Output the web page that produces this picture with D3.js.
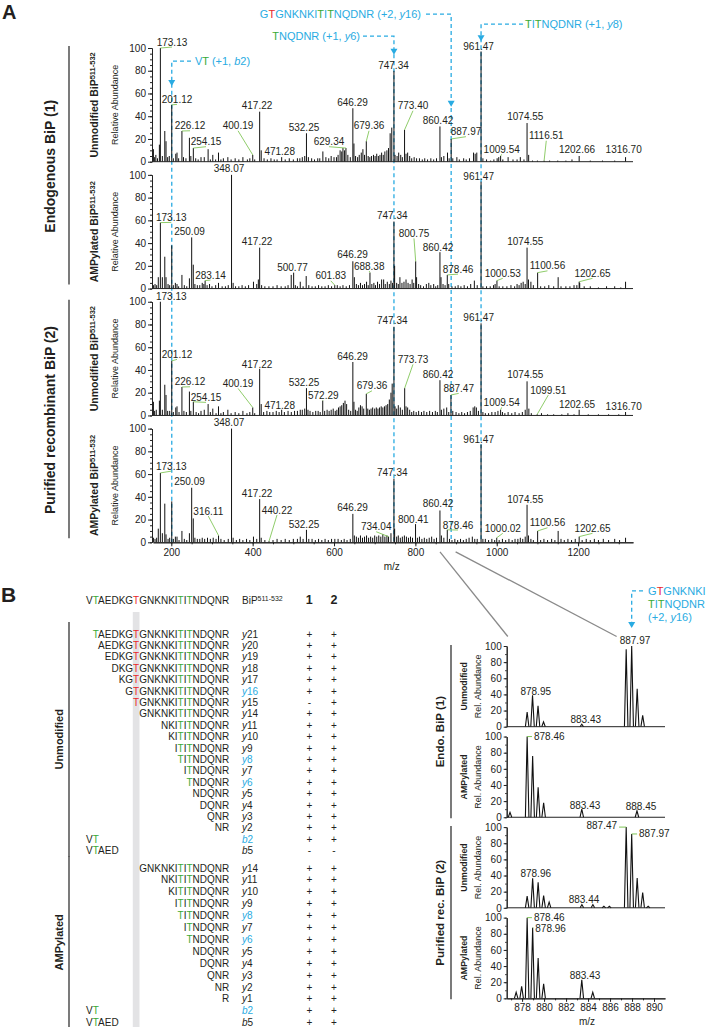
<!DOCTYPE html>
<html><head><meta charset="utf-8">
<script src="https://cdn.jsdelivr.net/npm/d3@7"></script>
<style>body{margin:0;background:#fff}svg{font-family:"Liberation Sans",Arial,sans-serif}</style>
</head><body><svg id="c" width="708" height="1027"></svg>
<script>
// ---------------- DATA ----------------
const mainDomain = [155, 1335];
const mainXTicks = [200, 400, 600, 800, 1000, 1200];
const yTicks = [0, 20, 40, 60, 80, 100];
const panelStates = ["Unmodified", "AMPylated", "Unmodified", "AMPylated"];
const groupNames = ["Endogenous BiP (1)", "Purified recombinant BiP (2)"];

// [m/z, relative abundance]
const endoUnmod = [[156,11],[159,4],[162,6],[166,3],[170.7,15],[173.13,100],[178,5],[184,27],[187,18],[191,4],[195,5],[201.12,50],[205,3],[211,7],[214,8],[218,3],[226.12,27],[230,4],[236,3],[244.5,21],[248,5],[254.15,12],[260,3],[266,2],[273,4],[281,4],[290.5,11],[296,2],[302,6],[309,2],[316,8],[322,2],[328,3],[339,4],[347,2],[357,3],[366,2],[376,4],[387,2],[393,3],[400.19,6],[405,2],[417.22,44],[421,10],[428,3],[436,2],[445,3],[453,2],[460,2],[471.28,4],[480,2],[490,3],[500,2],[510,3],[516,3],[522,4],[528,5],[532.25,25],[537,4],[545,3],[552,2],[560,3],[565,3],[572.6,9],[580,4],[587,3],[593,5],[600,4],[606,4],[610,6],[615,10],[619,9],[622,12],[626,10],[629.34,12],[634,6],[640,4],[646.29,47],[649,16],[653,5],[658,4],[662,6],[667,8],[671,11],[675,6],[679.36,18],[684,5],[688,4],[692,5],[697,6],[701,5],[705,7],[709,5],[713,6],[717,8],[721,6],[725,9],[730,10],[734,12],[738,25],[742,30],[747.34,80],[750,6],[755,5],[759,8],[764,6],[768,4],[773.4,28],[777,7],[781,8],[786,5],[791,3],[797,4],[803,3],[810,3],[817,2],[823,3],[830,2],[838,3],[845,2],[852,3],[860.42,31],[864,4],[870,5],[879,8],[883,3],[887.97,20],[892,3],[902,4],[908,2],[918.7,3],[925,2],[933,3],[943,8],[947,7],[951,8],[961.47,97],[966,3],[975,2],[985,1],[993,2],[1001,3],[1005,4],[1009.54,5],[1015,2],[1028,4],[1040,2],[1050,2],[1058,4],[1067,2],[1074.55,34],[1078.5,6],[1088,1],[1100,1],[1116.51,1],[1130,1],[1150,1],[1170,1],[1185,2],[1202.66,5],[1230,1],[1260,1],[1290,1],[1316.7,4]];
const endoAMP = [[156,3],[160,4],[164,3],[168,10],[173.13,58],[178,10],[184,28],[187,10],[192,4],[196,3],[201.12,38],[205,3],[210,5],[214,4],[218,2],[226.12,12],[232,3],[238,2],[244.5,9],[250.09,45],[254,21],[258,4],[264,3],[270,3],[276,5],[280,4],[283.14,7],[288,3],[294,4],[300,2],[309,3],[316,5],[325,2],[333,2],[340,3],[348.07,100],[352,5],[358,2],[366,2],[374,3],[382,2],[390,3],[402,6],[410,4],[414,8],[417.22,36],[422,3],[430,2],[440,2],[450,2],[460,3],[470,2],[480,2],[487,3],[494.8,12],[500.77,14],[505,3],[510,2],[517,6],[524,2],[531.6,11],[538,3],[546,2],[554,2],[562,3],[570,2],[578,2],[586,3],[594,2],[601.83,3],[608,3],[615,2],[622,3],[630,2],[638,3],[646.29,24],[650,10],[655,4],[660,3],[665,5],[670,3],[675,4],[680,6],[684,3],[688.38,14],[693,4],[698,5],[702,3],[707,6],[712,4],[717,8],[722,8],[726,4],[731,6],[736,4],[740,7],[744,5],[747.34,59],[749,20],[754,5],[758,4],[762,10],[767,5],[772,6],[777,8],[782,5],[787,4],[792,8],[796,5],[800.75,24],[803,10],[808,4],[813,3],[820,2],[827,4],[833,5],[838,3],[845,4],[850,2],[855,3],[860.42,32],[863,10],[868,4],[873,3],[878.46,12],[882,4],[890,2],[898,2],[905,3],[912,2],[920,3],[928,2],[936,4],[945,7],[952,3],[961.47,94],[966,2],[975,2],[984,2],[992,3],[996,4],[1000.53,7],[1006,2],[1015,2],[1025,2],[1035,3],[1044,2],[1050,4],[1055,3],[1060,5],[1065,6],[1070,4],[1074.55,36],[1078,8],[1084,6],[1090,3],[1100.56,14],[1108,2],[1118,2],[1128,3],[1140,2],[1151,10],[1158,2],[1170,2],[1180,2],[1190,3],[1197,3],[1202.65,6],[1204,5],[1215,2],[1230,2],[1250,1],[1270,2],[1290,2],[1305,1],[1316.7,6]];
const recUnmod = [[156,12],[159,4],[163,5],[170.7,13],[173.13,100],[178,5],[184,27],[187,18],[191,4],[196,4],[201.12,48],[205,3],[211,7],[214,8],[219,3],[226.12,25],[231,4],[237,3],[244.5,21],[248,4],[254.15,12],[261,3],[267,2],[273,4],[281,5],[290.5,10],[296,3],[302,6],[310,2],[316,8],[322,2],[328,3],[339,5],[347,2],[357,3],[366,2],[376,4],[386,2],[393,3],[400.19,7],[405,2],[417.22,41],[421,10],[427,3],[435,4],[442,3],[450,3],[458,4],[465,3],[471.28,5],[478,3],[487,4],[495,3],[503,4],[510,4],[517,5],[522,5],[528,6],[532.25,24],[536,5],[541,4],[548,3],[555,4],[561,4],[566,3],[572.29,13],[577,4],[583,5],[588,4],[593,5],[598,6],[603,4],[607,5],[611,7],[615,8],[619,9],[623,11],[627,13],[631,10],[636,5],[641,4],[646.29,47],[649,12],[653,5],[657,4],[661,7],[665,9],[669,8],[673,6],[679.36,19],[683,6],[687,5],[691,6],[695,7],[700,6],[704,7],[708,6],[712,7],[716,8],[720,7],[724,8],[728,9],[732,10],[736,14],[740,20],[743,28],[747.34,78],[750,8],[754,6],[758,9],[763,7],[768,5],[773.73,24],[777,8],[781,7],[786,5],[791,3],[796,4],[802,3],[808,4],[815,3],[821,4],[828,3],[835,4],[842,3],[849,4],[854,3],[860.42,31],[864,5],[870,6],[877,7],[882,3],[887.47,18],[892,4],[900,3],[907,2],[914,3],[921,2],[928,3],[935,4],[942,7],[946,8],[950,7],[955,4],[961.47,81],[966,3],[972,2],[980,2],[988,3],[996,3],[1003,4],[1009.54,5],[1014,3],[1020,2],[1028,3],[1037,2],[1045,3],[1055,2],[1063,3],[1070,5],[1074.55,30],[1079,6],[1085,2],[1099.51,1],[1110,2],[1125,1],[1140,1],[1160,1],[1175,2],[1190,1],[1202.65,5],[1225,1],[1250,1],[1275,1],[1300,1],[1316.7,3]];
const recAMP = [[156,4],[160,3],[164,4],[168,12],[173.13,61],[178,8],[184,34],[187,7],[192,3],[196,4],[201.12,36],[205,3],[210,5],[214,5],[219,2],[226.12,10],[232,3],[238,2],[244.5,8],[250.09,48],[254,21],[258,4],[264,3],[270,3],[276,4],[282,3],[289,4],[296,3],[303,4],[310,3],[316.11,6],[322,3],[330,2],[340,3],[348.07,100],[352,4],[360,2],[368,3],[376,2],[385,3],[393,2],[402,5],[410,3],[417.22,38],[421,4],[430,2],[440.22,1],[450,2],[460,3],[470,2],[480,3],[490,2],[500,3],[510,3],[517,5],[524,3],[532.25,11],[538,3],[546,3],[554,2],[562,3],[570,2],[578,3],[586,2],[594,3],[602,3],[610,3],[618,2],[625,3],[632,2],[640,3],[646.29,25],[650,6],[655,5],[660,4],[665,6],[670,4],[675,5],[680,6],[685,4],[690,5],[695,4],[700,6],[705,5],[710,6],[715,5],[720,7],[725,5],[730,6],[734.04,5],[740,8],[747.34,56],[749,12],[754,5],[758,6],[763,4],[768,5],[773,6],[778,5],[783,4],[788,5],[793,4],[800.41,16],[805,4],[810,5],[816,3],[822,4],[828,3],[834,4],[840,5],[846,3],[852,4],[860.42,28],[864,6],[870,4],[878.46,11],[884,3],[890,2],[897,3],[904,2],[911,3],[918,2],[925,3],[932,4],[940,5],[946,3],[952,3],[961.47,86],[966,3],[972,3],[980,2],[988,3],[995,2],[1000.02,4],[1006,2],[1014,3],[1022,2],[1030,3],[1038,2],[1045,3],[1052,3],[1058,4],[1064,3],[1070,5],[1074.55,33],[1078,6],[1084,3],[1090,2],[1100.56,10],[1108,2],[1116,3],[1125,2],[1135,3],[1143,2],[1151,10],[1158,3],[1166,2],[1175,3],[1184,2],[1193,3],[1202.65,5],[1210,2],[1220,3],[1230,2],[1240,3],[1250,2],[1262,3],[1275,2],[1290,3],[1302,2],[1316.7,4]];

// peak labels: [peak m/z, label m/z, label abundance, leader line]
const endoUnmodLabels = [[173.13,201.7,105.2,1],[201.12,214,54.8,1],[226.12,246,31.6,1],[254.15,285.3,17.6,1],[400.19,364,31.6,1],[417.22,410.7,49.2,0],[471.28,466.5,9.4,0],[532.25,526.2,29.9,0],[629.34,587.6,17.6,1],[646.29,645.4,51.8,0],[679.36,686,31.6,1],[747.34,746.2,85,0],[773.40,794.1,49.2,1],[860.42,855.6,36.6,0],[887.97,924.4,26.4,1],[961.47,955.4,101,0],[1009.54,1012.2,10.9,1],[1074.55,1070.2,39.5,0],[1116.51,1121.8,22.8,1],[1202.66,1197.3,10.9,0],[1316.70,1312.1,10.9,0]];
const endoAMPLabels = [[173.13,200,62.6,1],[250.09,244.7,49.9,0],[283.14,296.3,11.9,1],[348.07,341.8,105.6,0],[417.22,410.7,41.1,0],[500.77,497.9,18.3,0],[601.83,592.1,11.2,1],[646.29,645.4,30.1,0],[688.38,686.5,19.8,1],[747.34,743.3,64,0],[800.75,796.6,48.5,1],[860.42,855.6,36.4,0],[878.46,904.8,17.1,1],[961.47,955.6,98.9,0],[1000.53,1014.9,13.4,1],[1074.55,1070.2,41.1,0],[1100.56,1124.8,20,1],[1202.65,1235.4,13.4,1]];
const recUnmodLabels = [[173.13,200,104.3,0],[201.12,214,53.7,1],[226.12,246,29.6,1],[254.15,285.3,15.9,1],[400.19,364,28.2,1],[417.22,410.7,45.2,0],[471.28,466.5,8.5,0],[532.25,526.2,28.7,0],[572.29,573.6,17.9,1],[646.29,645.4,52.2,0],[679.36,693.4,26.1,1],[747.34,743.3,83.8,0],[773.73,794.1,49.3,1],[860.42,855.6,36.4,0],[887.47,906.5,23.8,1],[961.47,955.6,86.2,0],[1009.54,1012.2,11.5,1],[1074.55,1070.2,36.4,0],[1099.51,1126.7,22.3,1],[1202.65,1197.3,10,0],[1316.70,1312.1,7.6,0]];
const recAMPLabels = [[173.13,200,67,1],[250.09,244.7,53.3,0],[316.11,290.9,27.5,1],[348.07,341.8,105.4,0],[417.22,410.7,43.1,0],[440.22,459.8,28.4,1],[532.25,526.2,16.1,0],[646.29,645.4,30.4,0],[734.04,703.7,13.7,1],[747.34,743.3,61.5,0],[800.41,794.9,20.5,0],[860.42,855.6,33.7,0],[878.46,904.8,15.2,1],[961.47,955.6,90.8,0],[1000.02,1014.9,12.3,1],[1074.55,1070.2,37.8,0],[1100.56,1124.8,17.2,1],[1202.65,1235.4,12.3,1]];

// fragment annotations in panel A (abundance values in the scale of the top panel)
const fragNotes = [
  {parts:[["G","blue"],["T","red"],["GNKNKI","blue"],["T","green"],["I","blue"],["T","green"],["NQDNR","blue"]], charge:"+2", ion:"y16", mz:887.97, textMz:813.8, lineMz:826.1, level:129.8, tip:48.3, anchor:"end"},
  {parts:[["T","green"],["I","blue"],["T","green"],["NQDNR","blue"]], charge:"+1", ion:"y8", mz:961.47, textMz:1069.5, lineMz:1064.5, level:121, tip:106, anchor:"start"},
  {parts:[["T","green"],["NQDNR","blue"]], charge:"+1", ion:"y6", mz:747.34, textMz:663.8, lineMz:671.2, level:110.4, tip:94, anchor:"end"},
  {parts:[["V","blue"],["T","green"]], charge:"+1", ion:"b2", mz:201.12, textMz:258.2, lineMz:248.4, level:88.5, tip:66.5, anchor:"start"}
];

// zoomed inset (panel B right)
const insetDomain = [876.6, 891];
const insetXTicks = [878, 880, 882, 884, 886, 888, 890];
const insetGroups = ["Endo. BiP (1)", "Purified rec. BiP (2)"];
const insetEndoUnmod = [[878.46,18],[878.95,39],[879.45,26],[879.95,6],[883.43,3],[887.47,96],[887.97,100],[888.47,47],[888.97,14]];
const insetEndoAMP = [[876.9,6],[878.46,100],[878.96,76],[879.46,37],[879.96,18],[883.43,10],[888.45,8]];
const insetRecUnmod = [[878.46,14.5],[878.96,36.5],[879.46,31.5],[879.96,15],[880.46,7],[883.44,4],[884.44,4],[885.44,2],[885.94,2],[887.47,100],[887.97,91.5],[888.47,37],[888.97,19],[889.47,2]];
const insetRecAMP = [[877.46,7.5],[877.96,15],[878.46,100],[878.96,87.5],[879.46,50],[879.96,18],[883.43,23],[884.43,7.5]];
// [peak m/z, label m/z, label abundance, anchor, leader]
const insetEndoUnmodLabels = [[878.95,879.24,44,"middle",0],[883.43,883.79,9.5,"middle",0],[887.97,888.27,107,"middle",0]];
const insetEndoAMPLabels = [[878.46,878.9,100,"start",1],[883.43,883.72,14.5,"middle",0],[888.45,888.82,13.3,"middle",0]];
const insetRecUnmodLabels = [[887.47,886.82,101.6,"end",1],[887.97,888.46,91.8,"start",1],[878.96,879.24,43,"middle",0],[883.44,883.63,10.8,"middle",0]];
const insetRecAMPLabels = [[878.46,878.9,100,"start",1],[878.96,879.02,87,"start",1],[883.43,883.72,28,"middle",0]];

// table (panel B left)
const sequence = "VTAEDKGTGNKNKITITNDQNR";
const modifiedSite = [7];
const greenSites = [1, 14, 16];
const blueIons = ["y16", "y8", "y6", "b2"];
const unmodRows = [["y21","+","+"],["y20","+","+"],["y19","+","+"],["y18","+","+"],["y17","+","+"],["y16","+","+"],["y15","-","+"],["y14","+","+"],["y11","+","+"],["y10","+","+"],["y9","+","+"],["y8","+","+"],["y7","+","+"],["y6","+","+"],["y5","+","+"],["y4","+","+"],["y3","+","+"],["y2","+","+"],["b2","+","+"],["b5","-","-"]];
const ampRows = [["y14","+","+"],["y11","+","+"],["y10","+","+"],["y9","+","+"],["y8","+","+"],["y7","+","+"],["y6","+","+"],["y5","+","+"],["y4","+","+"],["y3","+","+"],["y2","+","+"],["y1","+","+"],["b2","+","+"],["b5","+","+"]];
const tableGroups = ["Unmodified", "AMPylated"];
const sampleCols = ["1", "2"];

// ---------------- DRAWING ----------------
const svg = d3.select("#c");
const C = {blue:"#29abe2", green:"#3aa935", red:"#e8262a", ink:"#231f20", lead:"#72bf44", grey:"#8a8a8a", band:"#e3e3e5"};

function txt(g, x, y, s, size, opts = {}) {
  const t = g.append("text").attr("x", x).attr("y", y).attr("font-size", size)
    .attr("fill", opts.fill || C.ink).attr("text-anchor", opts.anchor || "middle").attr("dy", opts.dy || "0.35em");
  if (opts.bold) t.attr("font-weight", "bold");
  if (opts.rotate) t.attr("transform", `rotate(-90,${x},${y})`);
  if (s !== null) t.text(s);
  return t;
}
function styleAxis(g, size) {
  g.attr("font-family", null).attr("font-size", size);
  g.selectAll("path,line").attr("stroke", "#222");
  g.selectAll("text").attr("fill", "#222");
}

// ===== Panel A =====
txt(svg, 2, 12, "A", 20, {anchor:"start", bold:true});
const xMain = d3.scaleLinear().domain(mainDomain).range([153, 633]);
const mainTop = i => 48 + i * 126.87, mainH = 113.7;
const yMain = [0,1,2,3].map(i => d3.scaleLinear().domain([0,100]).range([mainTop(i) + mainH, mainTop(i)]));

// blue dashed guide lines (behind spectra)
fragNotes.forEach(a => {
  const x = xMain(a.mz), y = yMain[0];
  svg.append("path").attr("d", `M${xMain(a.lineMz)},${y(a.level)}H${x}V${yMain[3](0)}`)
    .attr("fill","none").attr("stroke",C.blue).attr("stroke-width",1.3).attr("stroke-dasharray","4,3");
  const ty = y(a.tip);
  svg.append("path").attr("d", `M${x-3.5},${ty-6}L${x+3.5},${ty-6}L${x},${ty}Z`).attr("fill", C.blue);
  const t = txt(svg, xMain(a.textMz), y(a.level), null, 11, {anchor:a.anchor});
  a.parts.forEach(([s,c]) => t.append("tspan").attr("fill", C[c]).text(s));
  t.append("tspan").attr("fill", C.blue).text(` (${a.charge}, `);
  t.append("tspan").attr("fill", C.blue).attr("font-style","italic").text(a.ion[0]);
  t.append("tspan").attr("fill", C.blue).text(a.ion.slice(1) + ")");
});

const mainSpectra = [endoUnmod, endoAMP, recUnmod, recAMP];
const mainLabels = [endoUnmodLabels, endoAMPLabels, recUnmodLabels, recAMPLabels];
mainSpectra.forEach((pk, i) => {
  const y = yMain[i];
  const g = svg.append("g");
  g.selectAll("line").data(pk).join("line")
    .attr("x1", d => xMain(d[0])).attr("x2", d => xMain(d[0]))
    .attr("y1", y(0)).attr("y2", d => y(d[1])).attr("stroke", "#111").attr("stroke-width", 1);
  // axes
  const ya = svg.append("g").attr("transform", "translate(152,0)");
  ya.append("g").call(d3.axisLeft(y).tickValues(d3.range(0, 101, 5)).tickSize(2).tickFormat("").tickSizeOuter(0));
  ya.append("g").call(d3.axisLeft(y).tickValues(yTicks).tickSize(4).tickSizeOuter(0).tickPadding(2));
  styleAxis(ya, 10);
  if (i < 3) {
    svg.append("line").attr("x1", 152).attr("x2", 633).attr("y1", y(0)).attr("y2", y(0)).attr("stroke", "#222");
  } else {
    const xa = svg.append("g").attr("transform", `translate(0,${y(0)})`);
    xa.append("g").call(d3.axisBottom(xMain).tickValues(d3.range(200, 1301, 50)).tickSize(2).tickFormat("").tickSizeOuter(0));
    xa.append("g").call(d3.axisBottom(xMain).tickValues(mainXTicks).tickSize(4).tickSizeOuter(0).tickPadding(3).tickFormat(d3.format("d")));
    styleAxis(xa, 10);
    txt(svg, xMain(741.8), y(0) + 24, "m/z", 10);
  }
  // labels
  mainLabels[i].forEach(([mz, lx, ly, lead]) => {
    const p = pk.reduce((a, b) => Math.abs(b[0] - mz) < Math.abs(a[0] - mz) ? b : a);
    if (lead) svg.append("line").attr("x1", xMain(mz)).attr("y1", y(p[1]))
      .attr("x2", xMain(lx)).attr("y2", y(ly) + 5).attr("stroke", C.lead).attr("stroke-width", 0.8);
    txt(svg, xMain(lx), y(ly), mz.toFixed(2), 10);
  });
  // side labels
  const cy = mainTop(i) + mainH / 2;
  txt(svg, 115, cy, "Relative Abundance", 9, {rotate:true});
  const t = txt(svg, 94, cy, null, 10.5, {rotate:true, bold:true});
  t.append("tspan").text(panelStates[i] + " BiP");
  t.append("tspan").attr("font-size", 7.5).attr("dy", "-0.3em").text("511-532");
});
groupNames.forEach((name, k) => {
  const top = mainTop(2 * k), bot = mainTop(2 * k + 1) + mainH - 4;
  svg.append("line").attr("x1", 69).attr("x2", 69).attr("y1", top - 2).attr("y2", bot).attr("stroke", "#222").attr("stroke-width", 1.2);
  txt(svg, 50, (top + bot) / 2, name, 14, {rotate:true, bold:true});
});

// ===== Panel B: table =====
txt(svg, 1, 595, "B", 21, {anchor:"start", bold:true});
const seqRight = 229.3, ionX = 242, colX = [309.3, 334];
const headerY = 600;
const resColor = gi => gi === modifiedSite[0] ? C.red : (greenSites.includes(gi) ? C.green : C.ink);
function fragment(g, ion, y) {
  const n = +ion.slice(1);
  const start = ion[0] === "y" ? sequence.length - n : 0;
  const s = ion[0] === "y" ? sequence.slice(start) : sequence.slice(0, n);
  const t = txt(g, ion[0] === "y" ? seqRight : 86, y, null, 10, {anchor: ion[0] === "y" ? "end" : "start"});
  [...s].forEach((ch, i) => t.append("tspan").attr("fill", resColor(start + i)).text(ch));
  return t;
}
const bandG = svg.append("g");
const tableG = svg.append("g");
const head = txt(tableG, seqRight, headerY, null, 10, {anchor:"end"});
[...sequence].forEach((ch, i) => head.append("tspan").attr("fill", resColor(i)).text(ch));
const hb = txt(tableG, ionX, headerY, null, 10, {anchor:"start"});
hb.append("tspan").text("BiP");
hb.append("tspan").attr("font-size", 7).attr("dy", "-0.35em").text("511-532");
sampleCols.forEach((c, j) => txt(tableG, colX[j], headerY, c, 12.5, {bold:true}));
// grey band under modified Thr
const hn = head.node();
const bx0 = hn.getStartPositionOfChar(modifiedSite[0]).x, bx1 = hn.getEndPositionOfChar(modifiedSite[0]).x;
bandG.append("rect").attr("x", bx0 - 0.3).attr("width", bx1 - bx0 + 0.6).attr("y", 612).attr("height", 415).attr("fill", C.band);

const rowBlocks = [[unmodRows, 634, 11.4], [ampRows, 868, 11.9]];
rowBlocks.forEach(([rows, y0, step], k) => {
  rows.forEach((r, i) => {
    const y = y0 + i * step;
    fragment(tableG, r[0], y);
    const it = txt(tableG, ionX, y, null, 10, {anchor:"start", fill: blueIons.includes(r[0]) ? C.blue : C.ink});
    it.append("tspan").attr("font-style", "italic").text(r[0][0]);
    it.append("tspan").text(r[0].slice(1));
    txt(tableG, colX[0], y, r[1], 10);
    txt(tableG, colX[1], y, r[2], 10);
  });
  const top = y0 - 12, bot = y0 + (rows.length - 1) * step + 6;
  tableG.append("line").attr("x1", 69).attr("x2", 69).attr("y1", top).attr("y2", Math.min(bot, 1027)).attr("stroke", "#222").attr("stroke-width", 1.2);
  txt(tableG, 59, (top + bot) / 2, tableGroups[k], 11, {rotate:true, bold:true});
});

// ===== Panel B: inset =====
const xIn = d3.scaleLinear().domain(insetDomain).range([506.7, 665]);
const inTop = i => 646 + i * 90.55, inH = 80.7;
const yIn = [0,1,2,3].map(i => d3.scaleLinear().domain([0,100]).range([inTop(i) + inH, inTop(i)]));
const insetSpectra = [insetEndoUnmod, insetEndoAMP, insetRecUnmod, insetRecAMP];
const insetLabels = [insetEndoUnmodLabels, insetEndoAMPLabels, insetRecUnmodLabels, insetRecAMPLabels];
const hw = 0.16;
// connecting lines from main spectrum
[[860.5, 876.7], [899, 886.6]].forEach(([a, b]) => {
  svg.append("line").attr("x1", xMain(a)).attr("y1", yMain[3](0) + 9.5).attr("x2", xIn(b)).attr("y2", inTop(0) - 9.5)
    .attr("stroke", C.grey).attr("stroke-width", 1.3);
});
insetSpectra.forEach((pk, i) => {
  const y = yIn[i];
  svg.append("g").selectAll("path").data(pk).join("path")
    .attr("d", d => `M${xIn(d[0] - hw)},${y(0)}L${xIn(d[0])},${y(d[1])}L${xIn(d[0] + hw)},${y(0)}`)
    .attr("fill", "none").attr("stroke", "#111").attr("stroke-width", 1.1);
  const ya = svg.append("g").attr("transform", "translate(506.7,0)");
  ya.append("g").call(d3.axisLeft(y).tickValues(d3.range(0, 101, 10)).tickSize(1.5).tickFormat("").tickSizeOuter(0));
  ya.append("g").call(d3.axisLeft(y).tickValues(yTicks).tickSize(3).tickSizeOuter(0).tickPadding(2));
  styleAxis(ya, 10);
  const xa = svg.append("g").attr("transform", `translate(0,${y(0)})`);
  if (i < 3) {
    xa.append("line").attr("x1", 506.7).attr("x2", 665).attr("stroke", "#222");
  } else {
    xa.append("g").call(d3.axisBottom(xIn).tickValues(d3.range(877, 891, 1)).tickSize(2).tickFormat("").tickSizeOuter(0));
    xa.append("g").call(d3.axisBottom(xIn).tickValues(insetXTicks).tickSize(3.5).tickSizeOuter(0).tickPadding(2));
    styleAxis(xa, 10);
    txt(svg, xIn(883.9), y(0) + 23, "m/z", 10);
  }
  insetLabels[i].forEach(([mz, lx, ly, anchor, lead]) => {
    const p = pk.find(d => Math.abs(d[0] - mz) < 0.02);
    const txx = xIn(lx) + (anchor === "start" ? 2 : anchor === "end" ? -2 : 0);
    if (lead) svg.append("line").attr("x1", xIn(mz)).attr("y1", y(p[1])).attr("x2", xIn(lx)).attr("y2", y(p[1]))
      .attr("stroke", C.lead).attr("stroke-width", 0.9);
    txt(svg, txx, y(ly), mz.toFixed(2), 10, {anchor});
  });
  const cy = inTop(i) + inH / 2;
  txt(svg, 478, cy, "Rel. Abundance", 9, {rotate:true});
  txt(svg, 464, cy, panelStates[i], 8.8, {rotate:true, bold:true});
});
insetGroups.forEach((name, k) => {
  const top = inTop(2 * k) - 1, bot = inTop(2 * k + 1) + inH + 1;
  svg.append("line").attr("x1", 451).attr("x2", 451).attr("y1", top).attr("y2", bot).attr("stroke", "#222").attr("stroke-width", 1.2);
  txt(svg, 440, (top + bot) / 2, name, 11.5, {rotate:true, bold:true});
});
// inset y16 annotation
(() => {
  const x = xIn(887.97), y = yIn[0];
  svg.append("path").attr("d", `M${xIn(889.0)},${y(168.2)}H${x}V${y(122.3) - 3}`)
    .attr("fill","none").attr("stroke",C.blue).attr("stroke-width",1.3).attr("stroke-dasharray","4,3");
  const ty = y(122.3);
  svg.append("path").attr("d", `M${x-3.5},${ty-6}L${x+3.5},${ty-6}L${x},${ty}Z`).attr("fill", C.blue);
  const lines = [[["G","blue"],["T","red"],["GNKNKI","blue"]], [["T","green"],["I","blue"],["T","green"],["NQDNR","blue"]]];
  [168.2, 152].forEach((lv, j) => {
    const t = txt(svg, xIn(889.46), y(lv), null, 11, {anchor:"start"});
    lines[j].forEach(([s, c]) => t.append("tspan").attr("fill", C[c]).text(s));
  });
  const t = txt(svg, xIn(889.46), y(136), null, 11, {anchor:"start", fill:C.blue});
  t.append("tspan").text("(+2, ");
  t.append("tspan").attr("font-style","italic").text("y");
  t.append("tspan").text("16)");
})();
</script></body></html>
